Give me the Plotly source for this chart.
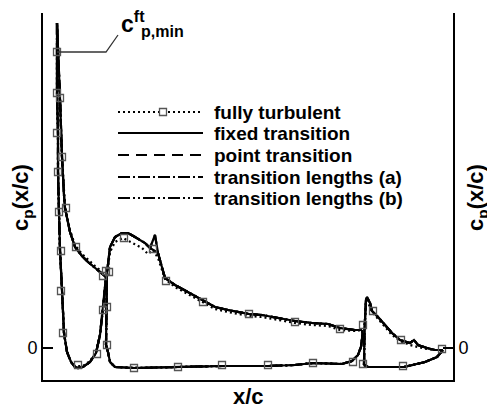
import plotly.graph_objects as go

# ---------------- pressure distributions (x/c, c_p) ----------------
# slat: upper surface from trailing edge to leading edge, then lower surface back
slat_up_x = [0.1225, 0.1075, 0.095, 0.0775, 0.0625, 0.045, 0.0325, 0.02, 0.0175, 0.0125, 0.0075, 0.0025, 0.0]
slat_up_cp = [-1.775, -1.9, -2.0, -2.15, -2.3, -2.525, -2.9, -3.5, -3.825, -4.775, -6.25, -7.4, -8.125]
slat_lo_x = [0.0, 0.0, 0.0, 0.0025, 0.0025, 0.005, 0.0075, 0.0125, 0.0175, 0.025, 0.035, 0.045,
             0.0525, 0.065, 0.0825, 0.0975, 0.1075, 0.115, 0.12, 0.1225]
slat_lo_cp = [-8.125, -7.2, -6.375, -5.375, -4.4, -3.4, -2.45, -1.45, -0.375, 0.1, 0.35, 0.475,
              0.5, 0.475, 0.35, 0.125, -0.325, -1.0, -1.45, -1.775]

# main element, upper surface with the transition spike (fixed / point transition)
main_up_x = [0.1225, 0.12375, 0.125, 0.1325, 0.145, 0.1625, 0.1775, 0.195, 0.22, 0.2325, 0.245,
             0.2525, 0.27, 0.295, 0.3275, 0.3625, 0.395, 0.4275, 0.48, 0.5125, 0.5525, 0.595,
             0.6375, 0.6775, 0.7075, 0.745, 0.7625]
main_up_cp = [-0.075, -1.2, -1.875, -2.525, -2.775, -2.875, -2.875, -2.775, -2.625, -2.5, -2.825,
              -2.375, -1.75, -1.575, -1.4, -1.2, -1.025, -0.95, -0.85, -0.825, -0.75, -0.675,
              -0.625, -0.6, -0.5, -0.45, -0.45]
# main element, upper surface with a finite transition length
main_up_len_x = [0.1225, 0.12375, 0.125, 0.1325, 0.145, 0.1625, 0.1775, 0.195, 0.22, 0.2325,
                 0.2525, 0.27, 0.295, 0.3275, 0.3625, 0.395, 0.4275, 0.48, 0.5125, 0.5525, 0.595,
                 0.6375, 0.6775, 0.7075, 0.745, 0.7625]
main_up_len_cp = [-0.075, -1.2, -1.875, -2.525, -2.775, -2.875, -2.875, -2.775, -2.625, -2.5,
                  -2.375, -1.75, -1.575, -1.4, -1.2, -1.025, -0.95, -0.85, -0.825, -0.75, -0.675,
                  -0.625, -0.6, -0.5, -0.45, -0.45]
main_lo_x = [0.1225, 0.1275, 0.1325, 0.145, 0.1925, 0.3025, 0.4125, 0.5275, 0.595, 0.64, 0.7125,
             0.7375, 0.7525, 0.76, 0.76375, 0.7625]
main_lo_cp = [-0.075, 0.1, 0.35, 0.475, 0.5, 0.475, 0.45, 0.45, 0.425, 0.375, 0.4, 0.325, 0.175,
              -0.025, -0.325, -0.45]

# flap
flap_up_x = [0.7675, 0.76875, 0.7725, 0.775, 0.7825, 0.7875, 0.8025, 0.82, 0.8375, 0.8575, 0.8825,
             0.8925, 0.9025, 0.925, 0.945, 0.965]
flap_up_cp = [0.425, -0.45, -1.2, -1.275, -1.125, -0.925, -0.775, -0.575, -0.375, -0.2, -0.125,
              -0.2, -0.075, 0.0, 0.05, 0.05]
flap_lo_x = [0.7675, 0.7775, 0.82, 0.8675, 0.92, 0.95, 0.965]
flap_lo_cp = [0.425, 0.475, 0.475, 0.475, 0.35, 0.225, 0.05]

# fully turbulent computation
ft_slat_up_x = [0.1225, 0.1075, 0.095, 0.0775, 0.0625, 0.045, 0.0325, 0.02, 0.0125, 0.0075, 0.0025, 0.0]
ft_slat_up_cp = [-1.775, -1.95, -2.05, -2.2, -2.35, -2.575, -2.95, -3.525, -4.775, -6.25, -7.2, -7.4]
ft_slat_lo_x = [0.0, 0.0, 0.0025, 0.0025, 0.005, 0.0075, 0.0125, 0.0175, 0.025, 0.035, 0.045,
                0.0525, 0.065, 0.0825, 0.0975, 0.1075, 0.115, 0.12, 0.1225]
ft_slat_lo_cp = [-7.4, -6.375, -5.375, -4.4, -3.4, -2.45, -1.45, -0.375, 0.1, 0.35, 0.45,
                 0.45, 0.45, 0.325, 0.1, -0.35, -1.0, -1.45, -1.775]
ft_main_up_x = [0.1225, 0.12375, 0.125, 0.1325, 0.145, 0.165, 0.1875, 0.2125, 0.2275, 0.24, 0.2525,
                0.27, 0.295, 0.3275, 0.3625, 0.395, 0.4275, 0.48, 0.5125, 0.5525, 0.595, 0.6375,
                0.6775, 0.7075, 0.745, 0.7625]
ft_main_up_cp = [-0.075, -1.2, -1.825, -2.4, -2.65, -2.75, -2.625, -2.5, -2.35, -2.45, -2.25,
                 -1.725, -1.525, -1.35, -1.15, -0.975, -0.9, -0.8, -0.775, -0.7, -0.625, -0.575,
                 -0.55, -0.45, -0.425, -0.45]
ft_flap_up_x = [0.7675, 0.76875, 0.7725, 0.775, 0.7875, 0.8025, 0.82, 0.8375, 0.8575, 0.8825,
                0.9025, 0.925, 0.945, 0.965]
ft_flap_up_cp = [0.425, -0.45, -1.15, -1.2, -0.9, -0.725, -0.525, -0.325, -0.175, -0.075, -0.025,
                 0.025, 0.05, 0.05]
# grid points carrying symbols on the fully turbulent curve
ft_sym_x = [0.0, 0.0, 0.0075, 0.0, 0.0125, 0.0025, 0.0225, 0.005, 0.01, 0.0475, 0.01, 0.015,
            0.0525, 0.1, 0.115, 0.115, 0.1225, 0.13, 0.125, 0.125, 0.1675, 0.24, 0.2725, 0.365,
            0.48, 0.595, 0.7075, 0.765, 0.79, 0.86, 0.9625, 0.1925, 0.3025, 0.4125, 0.5275,
            0.64, 0.74, 0.765, 0.865]
ft_sym_cp = [-7.4, -6.375, -6.25, -5.375, -4.775, -4.4, -3.5, -3.4, -2.425, -2.525, -1.425, -0.375,
             0.425, 0.15, -0.95, -1.8, -1.925, -1.9, -1.025, -0.075, -2.75, -2.475, -1.675, -1.15,
             -0.85, -0.65, -0.475, -0.575, -0.925, -0.2, 0.025, 0.5, 0.475, 0.425, 0.425,
             0.375, 0.35, 0.4, 0.45]

series_names = ["fully turbulent", "fixed transition", "point transition",
                "transition lengths (a)", "transition lengths (b)"]
dash_styles = ["2px,3px", "solid", "11px,7px", "12px,3px,2px,3px", "12px,3px,2px,3px,2px,3px"]

FONT = "Liberation Sans, Arial, sans-serif"


def joined(*parts):
    xs, ys = [], []
    for px, py in parts:
        if xs:
            xs.append(None)
            ys.append(None)
        xs += px
        ys += py
    return xs, ys


fig = go.Figure()

ft_x, ft_y = joined((ft_slat_up_x, ft_slat_up_cp), (ft_slat_lo_x, ft_slat_lo_cp),
                    (ft_main_up_x, ft_main_up_cp), (main_lo_x, main_lo_cp),
                    (ft_flap_up_x, ft_flap_up_cp), (flap_lo_x, flap_lo_cp))
spike_x, spike_y = joined((slat_up_x, slat_up_cp), (slat_lo_x, slat_lo_cp),
                          (main_up_x, main_up_cp), (main_lo_x, main_lo_cp),
                          (flap_up_x, flap_up_cp), (flap_lo_x, flap_lo_cp))
len_x, len_y = joined((slat_up_x, slat_up_cp), (slat_lo_x, slat_lo_cp),
                      (main_up_len_x, main_up_len_cp), (main_lo_x, main_lo_cp),
                      (flap_up_x, flap_up_cp), (flap_lo_x, flap_lo_cp))

curves = {
    "fully turbulent": (ft_x, ft_y),
    "fixed transition": (spike_x, spike_y),
    "point transition": (spike_x, spike_y),
    "transition lengths (a)": (len_x, len_y),
    "transition lengths (b)": (len_x, len_y),
}

# draw turbulent first, solid last so it sits on top
draw_order = ["fully turbulent", "transition lengths (b)", "transition lengths (a)",
              "point transition", "fixed transition"]
dash_of = dict(zip(series_names, dash_styles))
for name in draw_order:
    xs, ys = curves[name]
    fig.add_trace(go.Scatter(x=xs, y=ys, mode="lines", name=name, showlegend=False,
                             line=dict(color="black", width=2.2, dash=dash_of[name]),
                             hoverinfo="skip"))

fig.add_trace(go.Scatter(x=ft_sym_x, y=ft_sym_cp, mode="markers", showlegend=False,
                         marker=dict(symbol="square-open", size=7, color="#555555",
                                     line=dict(width=1.3, color="#555555")),
                         hoverinfo="skip"))

# empty trace so the mirrored right-hand axis is built
fig.add_trace(go.Scatter(x=[None], y=[None], yaxis="y2", showlegend=False, hoverinfo="skip"))

y_range = [0.8, -8.375]
axis_common = dict(range=y_range, showline=True, linewidth=2, linecolor="black",
                   showgrid=False, zeroline=False, tickmode="array", tickvals=[0],
                   ticktext=["0"], ticks="inside", ticklen=10, tickwidth=2,
                   tickcolor="black", tickfont=dict(family=FONT, size=18, color="black"),
                   automargin=False)

fig.update_layout(
    width=487, height=410,
    margin=dict(l=43, r=34, t=13, b=30),
    paper_bgcolor="white", plot_bgcolor="white",
    xaxis=dict(range=[-0.035, 0.99], showline=True, linewidth=2, linecolor="black",
               showgrid=False, zeroline=False, showticklabels=False, ticks="",
               automargin=False),
    yaxis=dict(side="left", **axis_common),
    yaxis2=dict(side="right", overlaying="y", anchor="x", **axis_common),
)

# leader to the turbulent suction peak
fig.add_shape(type="path", xref="x", yref="y",
              path="M 0,-7.4 L 0.1225,-7.4 L 0.1525,-7.825",
              line=dict(color="#333333", width=1.3))


def px_x(p):
    return (p - 43) / 410


def px_y(p):
    return (380 - p) / 367


fig.add_annotation(text="<b>c<sup>ft</sup></b>", x=px_x(119), y=px_y(22),
                   xref="paper", yref="paper", xanchor="left", yanchor="middle",
                   showarrow=False, font=dict(family=FONT, size=23, color="black"))
fig.add_annotation(text="<b>p,min</b>", x=px_x(139), y=px_y(32),
                   xref="paper", yref="paper", xanchor="left", yanchor="middle",
                   showarrow=False, font=dict(family=FONT, size=16, color="black"))
fig.add_annotation(text="<b>x/c</b>", x=px_x(248), y=px_y(397),
                   xref="paper", yref="paper", xanchor="center", yanchor="middle",
                   showarrow=False, font=dict(family=FONT, size=22, color="black"))

for xp in (22, 477):
    fig.add_annotation(text="<b>c<sub>p</sub>(x/c)</b>", x=px_x(xp), y=px_y(198),
                       xref="paper", yref="paper", xanchor="center", yanchor="middle",
                       textangle=-90, showarrow=False,
                       font=dict(family=FONT, size=22, color="black"))

# key
row_y = [112, 133, 155, 177, 198]
for name, ry in zip(series_names, row_y):
    fig.add_shape(type="line", xref="paper", yref="paper",
                  x0=px_x(118), x1=px_x(203), y0=px_y(ry), y1=px_y(ry),
                  line=dict(color="black", width=2, dash=dash_of[name]))
    fig.add_annotation(text="<b>%s</b>" % name, x=px_x(212), y=px_y(ry),
                       xref="paper", yref="paper", xanchor="left", yanchor="middle",
                       showarrow=False, font=dict(family=FONT, size=19, color="black"))
fig.add_shape(type="rect", xref="paper", yref="paper",
              x0=px_x(159.5), x1=px_x(166.5), y0=px_y(115.5), y1=px_y(108.5),
              line=dict(color="#555555", width=1.3), fillcolor="white")

fig.write_html("out.html")
